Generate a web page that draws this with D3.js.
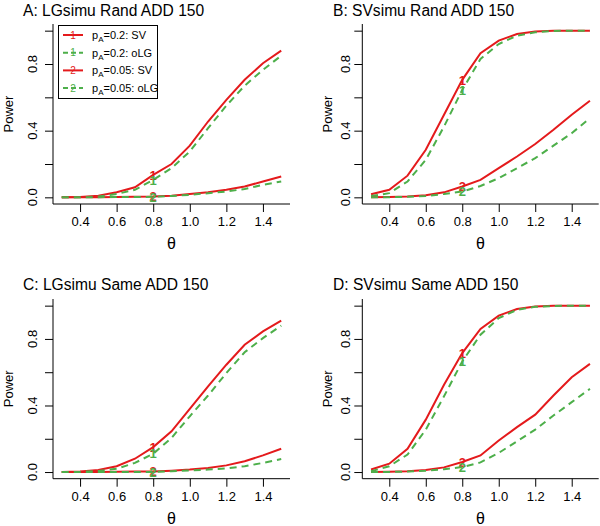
<!DOCTYPE html>
<html><head><meta charset="utf-8">
<script src="https://cdn.jsdelivr.net/npm/d3@7"></script>
<style>body{margin:0;background:#fff}svg{display:block}text{font-family:"Liberation Sans",Arial,sans-serif}</style>
</head><body><svg id="c" width="600" height="526"></svg>
<script>
const theta = [0.3,0.4,0.5,0.6,0.7,0.8,0.9,1.0,1.1,1.2,1.3,1.4,1.5];
const xTicks = [0.4,0.6,0.8,1.0,1.2,1.4];
const yTicks = [0,0.2,0.4,0.6,0.8,1.0];
const yTickLabels = ["0.0","","0.4","","0.8",""];
const titles = ["A: LGsimu Rand ADD 150","B: SVsimu Rand ADD 150","C: LGsimu Same ADD 150","D: SVsimu Same ADD 150"];
const seriesNames = ["pA=0.2: SV","pA=0.2: oLG","pA=0.05: SV","pA=0.05: oLG"];
const seriesMarks = ["1","1","2","2"];
// Panel A
const A_SV_02  = [0,0.002,0.01,0.03,0.06,0.135,0.2,0.31,0.455,0.585,0.705,0.805,0.88];
const A_oLG_02 = [0,0.001,0.005,0.02,0.045,0.105,0.175,0.275,0.415,0.55,0.67,0.765,0.85];
const A_SV_005 = [0,0,0.001,0.002,0.003,0.005,0.01,0.02,0.03,0.045,0.065,0.095,0.125];
const A_oLG_005= [0,0,0.001,0.002,0.002,0.003,0.008,0.015,0.025,0.035,0.05,0.075,0.095];
// Panel B
const B_SV_02  = [0.018,0.045,0.13,0.285,0.495,0.705,0.865,0.94,0.98,0.995,1,1,1];
const B_oLG_02 = [0.008,0.025,0.095,0.225,0.425,0.645,0.83,0.92,0.97,0.99,0.998,1,1];
const B_SV_005 = [0,0.002,0.005,0.012,0.03,0.065,0.105,0.175,0.245,0.32,0.405,0.495,0.58];
const B_oLG_005= [0,0.001,0.003,0.008,0.02,0.035,0.068,0.115,0.175,0.235,0.31,0.385,0.475];
// Panel C
const C_SV_02  = [0,0.003,0.012,0.035,0.08,0.15,0.245,0.38,0.515,0.645,0.765,0.845,0.91];
const C_oLG_02 = [0,0.001,0.006,0.02,0.055,0.11,0.205,0.335,0.46,0.595,0.72,0.805,0.88];
const C_SV_005 = [0,0,0.001,0.002,0.003,0.003,0.008,0.015,0.025,0.04,0.065,0.1,0.14];
const C_oLG_005= [0,0,0,0.001,0.001,0.001,0.005,0.01,0.015,0.022,0.035,0.055,0.078];
// Panel D
const D_SV_02  = [0.015,0.05,0.14,0.315,0.525,0.715,0.86,0.94,0.98,0.995,1,1,1];
const D_oLG_02 = [0.005,0.035,0.105,0.255,0.455,0.665,0.825,0.925,0.975,0.993,0.998,1,1];
const D_SV_005 = [0,0.002,0.005,0.012,0.028,0.06,0.1,0.19,0.27,0.345,0.46,0.57,0.65];
const D_oLG_005= [0,0.001,0.003,0.008,0.017,0.03,0.058,0.115,0.185,0.255,0.34,0.42,0.5];

const panelData = [
  [A_SV_02,A_oLG_02,A_SV_005,A_oLG_005],
  [B_SV_02,B_oLG_02,B_SV_005,B_oLG_005],
  [C_SV_02,C_oLG_02,C_SV_005,C_oLG_005],
  [D_SV_02,D_oLG_02,D_SV_005,D_oLG_005]
];
const RED="#E41A1C", GREEN="#4DAF4A";
const seriesColor=[RED,GREEN,RED,GREEN];
const seriesDash=[null,"7,5",null,"7,5"];

const layout = [
  {l:53,r:290,t:24,b:204,tx:23,ty:16,lab:37,pw:13},
  {l:362.3,r:598.7,t:24,b:204,tx:333,ty:16,lab:350,pw:332},
  {l:53,r:290,t:299,b:478.7,tx:23,ty:290,lab:37,pw:13},
  {l:362.3,r:598.7,t:299,b:478.7,tx:333,ty:290,lab:350,pw:332}
];
const svg=d3.select("#c");
layout.forEach((L,pi)=>{
  const x=d3.scaleLinear().domain([0.252,1.548]).range([L.l,L.r]);
  const y=d3.scaleLinear().domain([-0.04,1.04]).range([L.b,L.t]);
  const g=svg.append("g");
  g.append("text").attr("x",L.tx).attr("y",L.ty).attr("font-size",15.6).attr("fill","#000").text(titles[pi]);
  g.append("path").attr("d",`M${L.l},${L.t}V${L.b}H${L.r}`).attr("fill","none").attr("stroke","#000").attr("stroke-width",1);
  const xa=d3.axisBottom(x).tickValues(xTicks).tickFormat(d3.format(".1f")).tickSize(8).tickPadding(5);
  const gx=g.append("g").attr("transform",`translate(0,${L.b})`).call(xa);
  gx.select(".domain").remove();
  gx.selectAll("text").attr("font-size",13).attr("font-family","Liberation Sans, Arial, sans-serif").attr("fill","#000");
  const ya=d3.axisLeft(y).tickValues(yTicks).tickFormat((d,i)=>yTickLabels[i]).tickSize(8);
  const gy=g.append("g").attr("transform",`translate(${L.l},0)`).call(ya);
  gy.select(".domain").remove();
  gy.selectAll("text").remove();
  yTicks.forEach((v,i)=>{
    if(!yTickLabels[i]) return;
    g.append("text").attr("transform",`translate(${L.lab},${y(v)}) rotate(-90)`).attr("text-anchor","middle")
      .attr("font-size",13).text(yTickLabels[i]);
  });
  g.append("text").attr("transform",`translate(${L.pw},${(L.t+L.b)/2}) rotate(-90)`).attr("text-anchor","middle")
    .attr("font-size",13).text("Power");
  g.append("text").attr("x",(L.l+L.r)/2).attr("y",L.b+45).attr("text-anchor","middle")
    .attr("font-family","Liberation Serif, Times New Roman, serif").attr("font-size",16).text("θ");
  const line=d3.line().x((d,i)=>x(theta[i])).y(d=>y(d));
  panelData[pi].forEach((vals,si)=>{
    g.append("path").datum(vals).attr("d",line).attr("fill","none").attr("stroke",seriesColor[si])
      .attr("stroke-width",2).attr("stroke-dasharray",seriesDash[si]);
    const k=theta.indexOf(0.8);
    g.append("text").attr("x",x(theta[k])).attr("y",y(vals[k])).attr("dy","0.36em").attr("text-anchor","middle")
      .attr("font-size",13).attr("font-weight","bold").attr("fill",seriesColor[si]).text(seriesMarks[si]);
  });
  if(pi===0){
    const lg=g.append("g");
    lg.append("rect").attr("x",58.5).attr("y",25.5).attr("width",99).attr("height",73).attr("fill","#fff").attr("stroke","#000");
    seriesNames.forEach((nm,si)=>{
      const yy=35+si*17.7;
      lg.append("line").attr("x1",63).attr("x2",83).attr("y1",yy).attr("y2",yy).attr("stroke",seriesColor[si])
        .attr("stroke-width",2).attr("stroke-dasharray",seriesDash[si]?"5,3":null);
      lg.append("text").attr("x",73).attr("y",yy).attr("dy","0.36em").attr("text-anchor","middle").attr("font-size",10)
        .attr("fill",seriesColor[si]).text(seriesMarks[si]);
      const parts=nm.match(/^p(A)(.*)$/);
      const t=lg.append("text").attr("x",92).attr("y",yy+4).attr("font-size",11);
      t.append("tspan").text("p");
      t.append("tspan").attr("font-size",8).attr("dy",3).text(parts[1]);
      t.append("tspan").attr("dy",-3).text(parts[2]);
    });
  }
});
</script></body></html>
